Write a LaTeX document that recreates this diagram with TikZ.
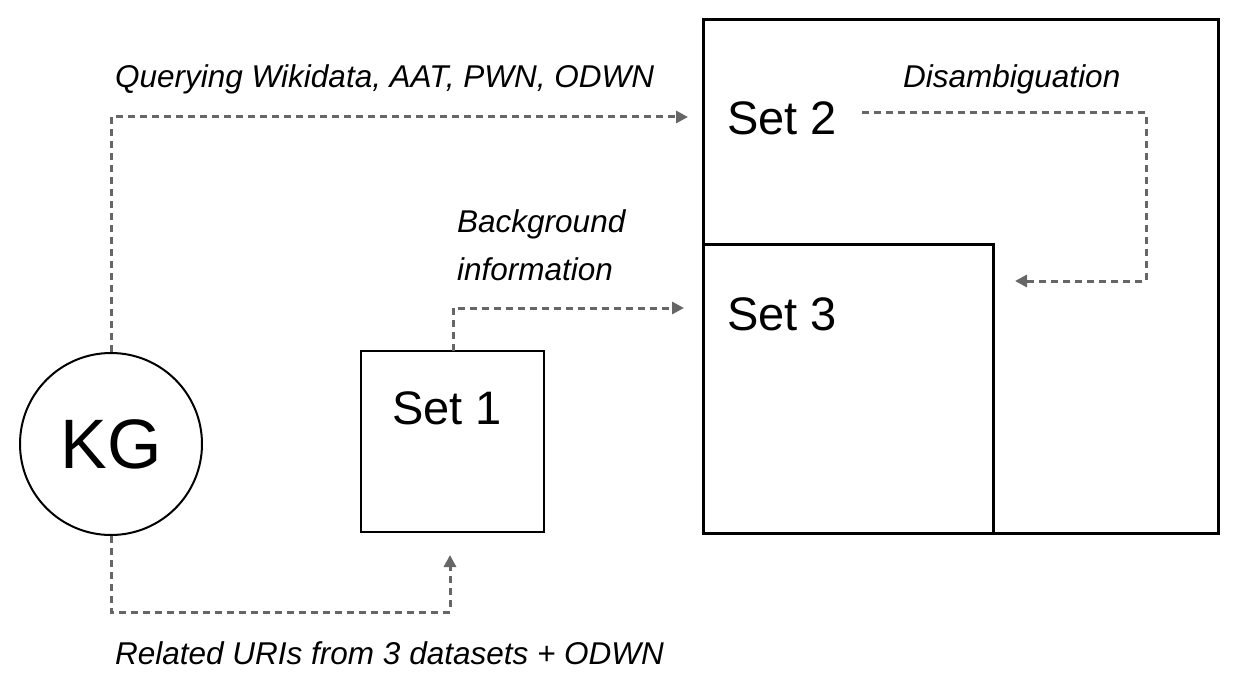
\documentclass[tikz,border=0pt]{standalone}
\usepackage{fontspec}
\setmainfont{Liberation Sans}
\usetikzlibrary{arrows.meta}
\definecolor{conngray}{HTML}{666666}
\begin{document}
\begin{tikzpicture}[x=1pt,y=-1pt,
  setbox/.style={draw=black,line width=3pt,inner sep=0pt,rectangle},
  conn/.style={draw=conngray,line width=3pt,dash pattern=on 7pt off 5pt,
    -{Triangle[length=12pt,width=12pt]}},
  lbl/.style={font=\fontsize{31.5}{38}\selectfont\itshape,inner sep=0pt,anchor=base west},
  setlbl/.style={font=\fontsize{47}{56}\selectfont,inner sep=0pt,anchor=base west}]
\useasboundingbox (0,0) rectangle (1237,690);
% boxes
\node[setbox,minimum width=515pt,minimum height=513pt] (set2box) at (960.5,276.5) {};
\node[setbox,minimum width=290pt,minimum height=289pt] (set3box) at (848,388.5) {};
\node[setbox,line width=2.5pt,minimum width=183pt,minimum height=181pt] (set1box) at (452.5,441.5) {};
\node[draw=black,line width=2pt,circle,minimum size=182pt,inner sep=0pt] (kg) at (111,444) {};
% set labels
\node[setlbl] (set2lbl) at (727,135) {Set 2};
\node[setlbl] (set3lbl) at (727,330) {Set 3};
\node[setlbl] (set1lbl) at (392,424) {Set 1};
\node[font=\fontsize{70}{84}\selectfont,inner sep=0pt] (kglbl) at (kg.center) {KG};
% edge labels
\node[lbl] (qlbl) at (115,88) {Querying Wikidata, AAT, PWN, ODWN};
\node[lbl] (dlbl) at (903,88) {Disambiguation};
\node[lbl] (blbl1) at (457,232) {Background};
\node[lbl] (blbl2) at (457,280) {information};
\node[lbl] (rlbl) at (115,664) {Related URIs from 3 datasets + ODWN};
% connector coordinates
\coordinate (c1) at (111,117);
\coordinate (t1) at (688,117);
\coordinate (c2a) at (111,612);
\coordinate (c2b) at (450,612);
\coordinate (t2) at (450,555);
\coordinate (s1top) at (453,351);
\coordinate (c3) at (453,308);
\coordinate (t3) at (684,308);
\coordinate (s2start) at (862,113);
\coordinate (c4a) at (1146,113);
\coordinate (c4b) at (1146,281);
\coordinate (t4) at (1015,281);
% connectors
\draw[conn] (kg.north) -- (c1) -- (t1);
\draw[conn] (kg.south) -- (c2a) -- (c2b) -- (t2);
\draw[conn] (s1top) -- (c3) -- (t3);
\draw[conn] (s2start) -- (c4a) -- (c4b) -- (t4);
\end{tikzpicture}
\end{document}
